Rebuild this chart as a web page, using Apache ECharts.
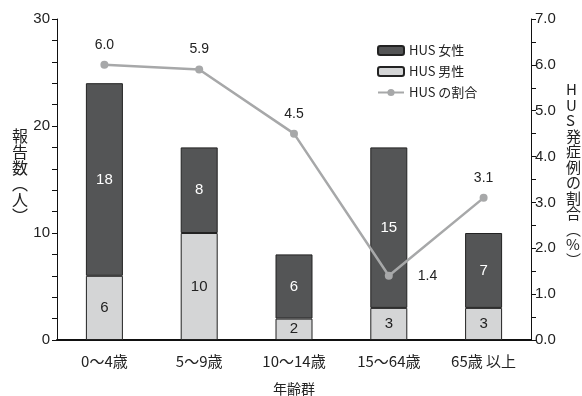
<!DOCTYPE html>
<html>
<head>
<meta charset="utf-8">
<script src="https://cdn.jsdelivr.net/npm/echarts@6/dist/echarts.min.js"></script>
<style>
  html, body { margin: 0; padding: 0; background: #fff; }
  #chart { width: 582px; height: 396px; }
</style>
</head>
<body>
<div id="chart"></div>
<script>
// Age groups and HUS case data
const categories = ['0～4歳', '5～9歳', '10～14歳', '15～64歳', '65歳 以上'];
const female = [18, 8, 6, 15, 7];
const male = [6, 10, 2, 3, 3];
const ratio = [6.0, 5.9, 4.5, 1.4, 3.1];
const seriesNames = ['HUS 女性', 'HUS 男性', 'HUS の割合'];

const FONT = '"Liberation Sans", "Noto Sans CJK JP", sans-serif';
const JP = '"Noto Sans CJK JP", sans-serif';

// per-point label placement for the ratio line
const ratioLabelPos = ['top', 'top', 'top', 'right', 'top'];
const ratioLabelOffset = [[0, -4], [0, -4], [0, -4], [20, 0], [0, -4]];

const chart = echarts.init(document.getElementById('chart'));

chart.setOption({
  animation: false,
  textStyle: { fontFamily: FONT },
  grid: { left: 57, right: 51, top: 19, bottom: 56, containLabel: false, outerBoundsMode: 'none' },
  legend: {
    orient: 'vertical',
    left: 372,
    top: 39,
    itemGap: 8,
    itemWidth: 26,
    itemHeight: 9,
    textStyle: { fontSize: 13, color: '#222', fontFamily: JP },
    data: seriesNames
  },
  xAxis: {
    type: 'category',
    data: categories,
    name: '年齢群',
    nameLocation: 'middle',
    nameGap: 42,
    nameTextStyle: { fontSize: 14, color: '#222', fontFamily: JP },
    axisLine: { lineStyle: { color: '#111', width: 2 } },
    axisTick: { alignWithLabel: true, length: 5, lineStyle: { color: '#111' } },
    axisLabel: { fontSize: 15, color: '#222', margin: 14, fontFamily: JP }
  },
  yAxis: [
    {
      type: 'value',
      min: 0, max: 30, interval: 2,
      axisLine: { show: true, lineStyle: { color: '#111', width: 1 } },
      axisTick: { show: true, length: 5, lineStyle: { color: '#111' } },
      axisLabel: {
        fontSize: 15, color: '#222', margin: 7,
        formatter: v => (v % 10 === 0 ? String(v) : '')
      },
      splitLine: { show: false }
    },
    {
      type: 'value',
      min: 0, max: 7, interval: 0.5,
      axisLine: { show: true, lineStyle: { color: '#111', width: 1 } },
      axisTick: { show: true, length: 5, lineStyle: { color: '#111' } },
      axisLabel: {
        fontSize: 15, color: '#222', margin: 4,
        formatter: v => (Math.abs(v % 1) < 1e-9 ? v.toFixed(1) : '')
      },
      splitLine: { show: false }
    }
  ],
  graphic: [
    {
      type: 'text',
      left: 12, top: 128,
      style: {
        text: ['報', '告', '数', '︵', '人', '︶'].join('\n'),
        font: '16px ' + JP,
        fill: '#222',
        lineHeight: 16,
        align: 'center'
      }
    },
    {
      type: 'text',
      left: 566, top: 82,
      style: {
        text: ['H', 'U', 'S', '発', '症', '例', 'の', '割', '合', '︵', '%', '︶'].join('\n'),
        font: '15px ' + JP,
        fill: '#222',
        lineHeight: 15.5,
        align: 'center'
      }
    }
  ],
  series: [
    {
      name: seriesNames[1],
      type: 'bar',
      stack: 'cases',
      barWidth: 37,
      data: male,
      itemStyle: { color: '#d4d5d6', borderColor: '#222', borderWidth: 1 },
      label: { show: true, position: 'inside', fontSize: 15, color: '#222' }
    },
    {
      name: seriesNames[0],
      type: 'bar',
      stack: 'cases',
      barWidth: 37,
      data: female,
      itemStyle: { color: '#545556', borderColor: '#222', borderWidth: 1 },
      label: { show: true, position: 'inside', fontSize: 15, color: '#fff' }
    },
    {
      name: seriesNames[2],
      type: 'line',
      yAxisIndex: 1,
      z: 5,
      symbol: 'circle',
      symbolSize: 8,
      lineStyle: { color: '#a7a8a9', width: 2.5 },
      itemStyle: { color: '#a7a8a9' },
      data: ratio.map((v, i) => ({
        value: v,
        label: {
          show: true,
          position: ratioLabelPos[i],
          offset: ratioLabelOffset[i],
          fontSize: 14,
          color: '#222',
          formatter: p => p.value.toFixed(1)
        }
      }))
    }
  ]
});
</script>
</body>
</html>
